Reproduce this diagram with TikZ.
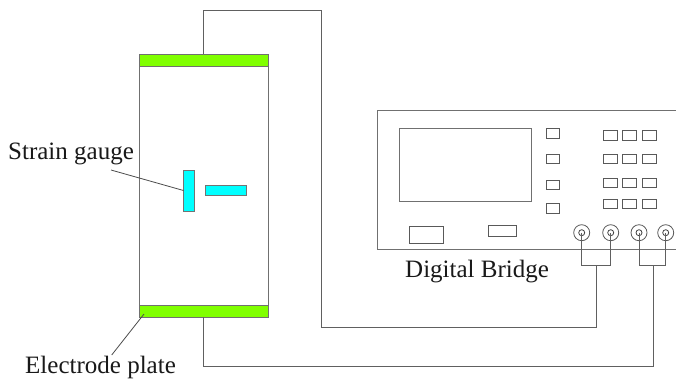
\documentclass[tikz,border=0pt]{standalone}
\usepackage{fontspec}
\setmainfont{Liberation Serif}
\definecolor{plategreen}{HTML}{80FF00}
\definecolor{gaugecyan}{HTML}{00FFFF}
\definecolor{linegrey}{HTML}{707070}
\definecolor{wiregrey}{HTML}{606060}
\newcommand{\bx}[6]{%
  \pgfmathsetmacro{\bxcx}{(#3+#5)/2}%
  \pgfmathsetmacro{\bxcy}{(#4+#6)/2}%
  \pgfmathsetmacro{\bxw}{#5-#3}%
  \pgfmathsetmacro{\bxh}{#6-#4}%
  \node[#1,minimum width=\bxw pt,minimum height=\bxh pt] (#2) at (\bxcx,\bxcy) {};}
\tikzset{
  boxbase/.style={draw=linegrey,rectangle,inner sep=0pt,outer sep=0pt,line width=0.9pt},
  panel/.style={boxbase,fill=white},
  key/.style={boxbase,draw=black!65,line width=0.8pt},
  plate/.style={boxbase,fill=plategreen},
  gauge/.style={boxbase,fill=gaugecyan,draw=black!55},
  wire/.style={draw=wiregrey,line width=0.9pt},
  leader/.style={draw=black!70,line width=0.8pt},
  lab/.style={font=\fontsize{25}{28}\selectfont,anchor=base west,inner sep=0pt,text=black!90},
  knobo/.style={circle,draw=black!65,line width=0.8pt,minimum size=16pt,inner sep=0pt,outer sep=0pt},
  knobi/.style={circle,draw=black!75,line width=0.8pt,minimum size=6pt,inner sep=0pt,outer sep=0pt}
}
\begin{document}
\begin{tikzpicture}[x=1pt,y=-1pt]
\useasboundingbox[fill=white] (0,0) rectangle (676,381);
% specimen
\bx{panel}{spec}{139.5}{54}{268}{317}
\bx{plate}{ptop}{139.5}{54}{268}{66}
\bx{plate}{pbot}{139.5}{305}{268}{317}
\bx{gauge}{gv}{183.5}{170}{194}{211}
\bx{gauge}{gh}{205}{185}{246}{195.5}
% instrument housing, cut by the picture's right edge
\coordinate (hur) at (676,110);
\coordinate (hul) at (377.5,110);
\coordinate (hll) at (377.5,249);
\coordinate (hlr) at (676,249);
\draw[boxbase] (hur) -- (hul) -- (hll) -- (hlr);
\bx{boxbase}{screen}{399}{128.5}{531}{201.5}
\bx{key}{s1}{546}{128.5}{559.5}{138}
\bx{key}{s2}{546}{154}{559.5}{163}
\bx{key}{s3}{546}{180}{559.5}{189.5}
\bx{key}{s4}{546}{203}{559.5}{213}
\bx{key}{k11}{603.5}{130.5}{617}{140}
\bx{key}{k12}{622.5}{130.5}{636}{140}
\bx{key}{k13}{642}{130.5}{656}{140}
\bx{key}{k21}{603.5}{154.5}{617}{163.5}
\bx{key}{k22}{622.5}{154.5}{636}{163.5}
\bx{key}{k23}{642}{154.5}{656}{163.5}
\bx{key}{k31}{603.5}{178}{617}{187}
\bx{key}{k32}{622.5}{178}{636}{187}
\bx{key}{k33}{642}{178}{656}{187}
\bx{key}{k41}{603.5}{199}{617}{208}
\bx{key}{k42}{622.5}{199}{636}{208}
\bx{key}{k43}{642}{199}{656}{208}
\bx{key}{b1}{409.5}{226.5}{443.5}{243}
\bx{key}{b2}{488.5}{225.5}{516}{236}
% connectors
\node[knobo] (oa) at (581.7,232.7) {};
\node[knobo] (ob) at (610.7,232.7) {};
\node[knobo] (oc) at (639,232.7) {};
\node[knobo] (od) at (665.7,232.7) {};
\node[knobi] (ia) at (581.7,232.7) {};
\node[knobi] (ib) at (610.7,232.7) {};
\node[knobi] (ic) at (639,232.7) {};
\node[knobi] (id) at (665.7,232.7) {};
\coordinate (bra) at (596.5,265.7);
\coordinate (brb) at (653,265.7);
\coordinate (c1) at (321.5,10);
\coordinate (c2) at (321.5,327);
\coordinate (c3) at (596.5,327);
\coordinate (c4) at (653,366);
\draw[wire] (ia.center) |- (bra) -| (ib.center);
\draw[wire] (ic.center) |- (brb) -| (id.center);
\draw[wire] (ptop.north) |- (c1) -- (c2) -- (c3) -- (bra);
\draw[wire] (pbot.south) |- (c4) -- (brb);
% labels
\node[lab] (lsg) at (8,159) {Strain gauge};
\node[lab] (lep) at (25,373) {Electrode plate};
\node[lab] (ldb) at (405,277) {Digital Bridge};
\coordinate (lsgend) at (111,170);
\coordinate (lepend) at (111.7,355);
\coordinate (lepplate) at (144,314);
\draw[leader] (lsgend) -- (gv.west);
\draw[leader] (lepend) -- (lepplate);
\end{tikzpicture}
\end{document}
